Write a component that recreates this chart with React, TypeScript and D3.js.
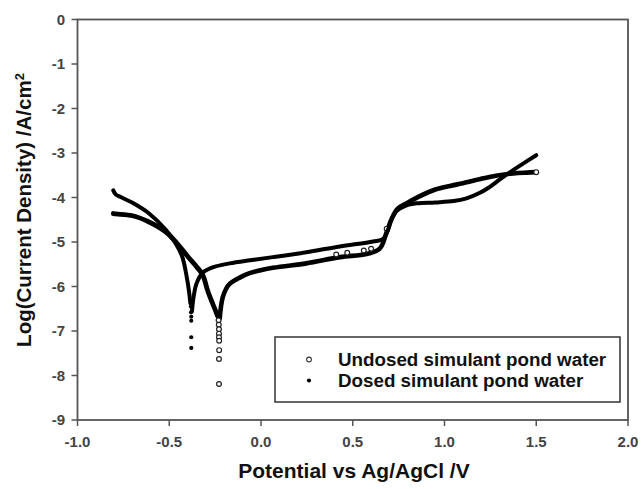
import React from "react";
import * as d3 from "d3";

type Pt = [number, number];

// Potential (V vs Ag/AgCl), log(current density)
const dosedCathodic: Pt[] = [
  [-0.805, -3.84], [-0.792, -3.93], [-0.765, -3.99], [-0.70, -4.12], [-0.61, -4.36],
  [-0.52, -4.72], [-0.47, -5.0], [-0.43, -5.32], [-0.405, -5.78], [-0.392, -6.12], [-0.385, -6.38],
];
const dosedTail: Pt[] = [
  [-0.382, -6.45], [-0.381, -6.58], [-0.38, -6.68], [-0.38, -6.77], [-0.38, -7.14], [-0.38, -7.38],
];
const dosedAnodic: Pt[] = [
  [-0.376, -6.55], [-0.368, -6.25], [-0.351, -5.93], [-0.318, -5.69], [-0.264, -5.57],
  [-0.171, -5.48], [-0.06, -5.41], [0.065, -5.34], [0.247, -5.23], [0.43, -5.1],
  [0.611, -4.99], [0.666, -4.93], [0.69, -4.75], [0.71, -4.5], [0.74, -4.3], [0.79, -4.18],
  [0.85, -4.13], [0.95, -4.11], [1.05, -4.08], [1.12, -4.02], [1.19, -3.9], [1.24, -3.78],
  [1.3, -3.6], [1.35, -3.45], [1.42, -3.26], [1.5, -3.05],
];

const undosedCathodic: Pt[] = [
  [-0.805, -4.36], [-0.79, -4.37], [-0.7, -4.41], [-0.61, -4.55], [-0.52, -4.77],
  [-0.46, -5.02], [-0.4, -5.32], [-0.35, -5.56], [-0.318, -5.74], [-0.29, -6.1],
  [-0.27, -6.32], [-0.25, -6.52], [-0.237, -6.66],
];
const undosedTail: Pt[] = [
  [-0.231, -6.76], [-0.23, -6.86], [-0.229, -6.96], [-0.229, -7.06], [-0.229, -7.14],
  [-0.228, -7.22], [-0.228, -7.43], [-0.229, -7.63], [-0.229, -8.19],
];
const undosedAnodic: Pt[] = [
  [-0.225, -6.72], [-0.218, -6.45], [-0.209, -6.25], [-0.19, -6.05], [-0.171, -5.94],
  [-0.116, -5.8], [-0.062, -5.7], [0.065, -5.58], [0.247, -5.48], [0.43, -5.34],
  [0.575, -5.27], [0.647, -5.15], [0.684, -4.79], [0.713, -4.47], [0.745, -4.25],
  [0.793, -4.13], [0.86, -3.98], [0.95, -3.82], [1.03, -3.74], [1.1, -3.68],
  [1.2, -3.58], [1.28, -3.51], [1.375, -3.46], [1.45, -3.44], [1.5, -3.43],
];
const undosedScatter: Pt[] = [
  [0.41, -5.28], [0.47, -5.24], [0.56, -5.19], [0.6, -5.15], [0.685, -4.7],
];

const xTicks = [-1.0, -0.5, 0.0, 0.5, 1.0, 1.5, 2.0];
const xTickLabels = ["-1.0", "-0.5", "0.0", "0.5", "1.0", "1.5", "2.0"];
const yTicks = [0, -1, -2, -3, -4, -5, -6, -7, -8, -9];
const yTickLabels = ["0", "-1", "-2", "-3", "-4", "-5", "-6", "-7", "-8", "-9"];

const legendLabels = ["Undosed simulant pond water", "Dosed simulant pond water"];
const xTitle = "Potential vs Ag/AgCl /V";

const FONT = "'Liberation Sans', Arial, Helvetica, sans-serif";

export default function App() {
  const left = 77.5, right = 628, top = 19.5, bottom = 420;
  const x = d3.scaleLinear().domain([-1, 2]).range([left, right]);
  const y = d3.scaleLinear().domain([0, -9]).range([top, bottom]);
  const line = d3
    .line<Pt>()
    .x((d) => x(d[0]))
    .y((d) => y(d[1]))
    .curve(d3.curveCatmullRom.alpha(0.5));

  const axisColor = "#555";
  const tickColor = "#444";
  const lastU = undosedAnodic[undosedAnodic.length - 1];

  return (
    <svg
      width={641}
      height={489}
      style={{ position: "absolute", left: 0, top: 0, background: "#fff" }}
      fontFamily={FONT}
    >
      <rect x={0} y={0} width={641} height={489} fill="#fff" />
      {/* frame */}
      <rect x={left} y={top} width={right - left} height={bottom - top} fill="none" stroke={axisColor} strokeWidth={1.8} />

      {/* y ticks */}
      {yTicks.map((t, i) => (
        <g key={"y" + t}>
          <line x1={left - 6} x2={left} y1={y(t)} y2={y(t)} stroke={axisColor} strokeWidth={1.5} />
          <text x={65} y={y(t)} dy="0.35em" textAnchor="end" fontSize={15} fontWeight="bold" fill={tickColor}>
            {yTickLabels[i]}
          </text>
        </g>
      ))}
      {/* x ticks */}
      {xTicks.map((t, i) => (
        <g key={"x" + t}>
          <line x1={x(t)} x2={x(t)} y1={bottom} y2={bottom + 6} stroke={axisColor} strokeWidth={1.5} />
          <text x={x(t)} y={447} textAnchor="middle" fontSize={15} fontWeight="bold" fill={tickColor}>
            {xTickLabels[i]}
          </text>
        </g>
      ))}

      {/* axis titles */}
      <text x={354} y={478} textAnchor="middle" fontSize={21} fontWeight="bold" fill="#111">
        {xTitle}
      </text>
      <text
        transform="translate(31,210) rotate(-90)"
        textAnchor="middle"
        fontSize={20.5}
        fontWeight="bold"
        fill="#111"
      >
        Log(Current Density) /A/cm<tspan fontSize={13} dy={-7}>2</tspan>
      </text>

      {/* undosed (open circles) */}
      <g fill="none" stroke="#000" strokeLinecap="round" strokeLinejoin="round">
        <path d={line(undosedCathodic) || ""} strokeWidth={4.8} />
        <path d={line(undosedAnodic) || ""} strokeWidth={4.6} />
      </g>
      {undosedTail.concat(undosedScatter).map((d, i) => (
        <circle key={"u" + i} cx={x(d[0])} cy={y(d[1])} r={2.4} fill="#fff" stroke="#222" strokeWidth={1.2} />
      ))}
      <circle cx={x(lastU[0])} cy={y(lastU[1])} r={2.4} fill="#fff" stroke="#222" strokeWidth={1.2} />

      {/* dosed (filled dots) */}
      <g fill="none" stroke="#000" strokeLinecap="round" strokeLinejoin="round">
        <path d={line(dosedCathodic) || ""} strokeWidth={4} />
        <path d={line(dosedAnodic) || ""} strokeWidth={4} />
      </g>
      {dosedTail.map((d, i) => (
        <circle key={"d" + i} cx={x(d[0])} cy={y(d[1])} r={2.1} fill="#000" />
      ))}

      {/* legend */}
      <rect x={275} y={337} width={345} height={65} fill="#fff" stroke="#333" strokeWidth={1.5} />
      <circle cx={309} cy={359.5} r={2.4} fill="#fff" stroke="#333" strokeWidth={1.1} />
      <circle cx={309} cy={380.5} r={2.1} fill="#000" />
      <text x={338} y={365.5} fontSize={18.8} fontWeight="bold" fill="#111">{legendLabels[0]}</text>
      <text x={338} y={386.5} fontSize={18.8} fontWeight="bold" fill="#111">{legendLabels[1]}</text>
    </svg>
  );
}
